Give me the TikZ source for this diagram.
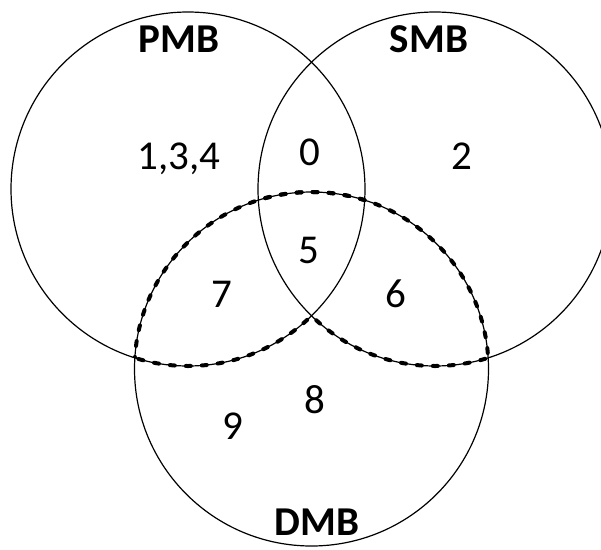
\documentclass[tikz,border=0pt]{standalone}
\usepackage{fontspec}
\setmainfont{Carlito}
\begin{document}
\begin{tikzpicture}[x=1pt,y=-1pt,
  ring/.style={draw=black,line width=1.2pt},
  dashring/.style={draw=black,line width=4pt,line cap=round,dash pattern=on 5pt off 11pt},
  num/.style={font=\fontsize{41}{49}\selectfont,anchor=base,inner sep=0pt},
  ttl/.style={font=\fontsize{41}{49}\selectfont\bfseries,anchor=base,inner sep=0pt}]
\useasboundingbox (0,0) rectangle (601,549);
\coordinate (P) at (188,189);
\coordinate (S) at (435,189);
\coordinate (D) at (311.5,369);
% thin circles
\draw[ring] (P) circle[radius=177pt];
\draw[ring] (S) circle[radius=177pt];
\draw[ring] (D) circle[radius=177pt];
% dashed boundary of DMB within PMB or SMB
\begin{scope}
  \clip (P) circle[radius=177pt];
  \draw[dashring] (D) circle[radius=177pt];
\end{scope}
\begin{scope}
  \clip (S) circle[radius=177pt];
  \draw[dashring] (D) circle[radius=177pt];
\end{scope}
\begin{scope}
  \clip (D) circle[radius=177pt];
  \begin{scope}[even odd rule]
    \clip (-20,-20) rectangle (640,580) (S) circle[radius=177pt];
    \draw[dashring] (P) circle[radius=177pt];
  \end{scope}
\end{scope}
\begin{scope}
  \clip (D) circle[radius=177pt];
  \begin{scope}[even odd rule]
    \clip (-20,-20) rectangle (640,580) (P) circle[radius=177pt];
    \draw[dashring] (S) circle[radius=177pt];
  \end{scope}
\end{scope}
% labels
\node[ttl] (lp) at (179,52) {PMB};
\node[ttl] (ls) at (429,52) {SMB};
\node[ttl] (ld) at (317,535) {DMB};
\node[num] (n134) at (179,169) {1,3,4};
\node[num] (n0) at (310,165) {0};
\node[num] (n2) at (462,169) {2};
\node[num] (n5) at (309,263) {5};
\node[num] (n7) at (222,307) {7};
\node[num] (n6) at (396,307) {6};
\node[num] (n8) at (315,413) {8};
\node[num] (n9) at (233,439) {9};
\end{tikzpicture}
\end{document}
